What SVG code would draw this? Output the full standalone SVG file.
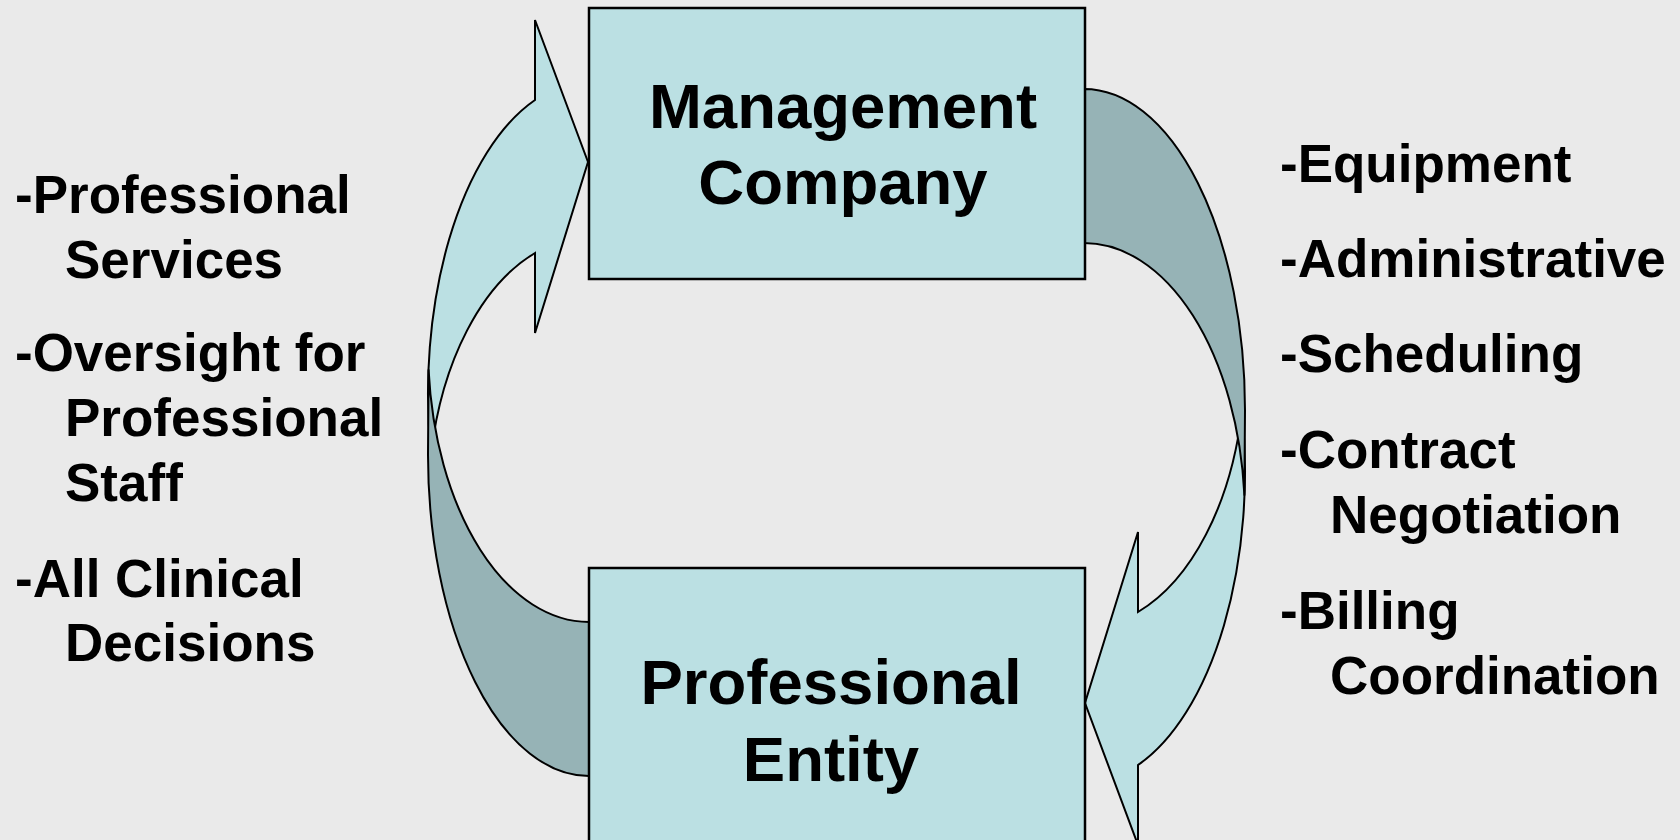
<svg xmlns="http://www.w3.org/2000/svg" width="1680" height="840" viewBox="0 0 1680 840">
<defs>
<style>
.bg{fill:#EAEAEA}
.box{fill:#BBE0E3;stroke:#000;stroke-width:2.5}
.front{fill:#BBE0E3;stroke:#000;stroke-width:2;stroke-linejoin:miter}
.back{fill:#96B3B6;stroke:#000;stroke-width:2;stroke-linejoin:round}
.title{font-family:"Liberation Sans",Arial,sans-serif;font-weight:bold;font-size:63.5px;fill:#000;text-anchor:middle}
.item{font-family:"Liberation Sans",Arial,sans-serif;font-weight:bold;font-size:53px;fill:#000}
</style>
<g id="curved-arrow">
<path class="front" d="M535,20 L588,162 L535,333 L535,253 A161,267.6 0 0 0 431,454 A161,312 0 0 1 535,100 Z"/>
<path class="back" d="M589,622 A161,275.2 0 0 1 428.6,370 L428,455 A161,321 0 0 0 589,776 Z"/>
</g>
</defs>
<rect class="bg" x="0" y="0" width="1680" height="840"/>
<g id="connectors">
<use href="#curved-arrow"/>
<use href="#curved-arrow" transform="rotate(180 836.5 432.5)"/>
</g>
<g id="management-company">
<rect class="box" x="589" y="8" width="496" height="271"/>
<text class="title" x="843" y="128">Management</text>
<text class="title" x="843" y="204">Company</text>
</g>
<g id="professional-entity">
<rect class="box" x="589" y="568" width="496" height="290"/>
<text class="title" x="831" y="704">Professional</text>
<text class="title" x="831" y="781">Entity</text>
</g>
<g id="left-list">
<text class="item" x="15" y="213">-Professional</text>
<text class="item" x="65" y="278">Services</text>
<text class="item" x="15" y="371">-Oversight for</text>
<text class="item" x="65" y="436">Professional</text>
<text class="item" x="65" y="501">Staff</text>
<text class="item" x="15" y="597">-All Clinical</text>
<text class="item" x="65" y="661">Decisions</text>
</g>
<g id="right-list">
<text class="item" x="1280" y="182">-Equipment</text>
<text class="item" x="1280" y="277">-Administrative</text>
<text class="item" x="1280" y="372">-Scheduling</text>
<text class="item" x="1280" y="468">-Contract</text>
<text class="item" x="1330" y="533">Negotiation</text>
<text class="item" x="1280" y="629">-Billing</text>
<text class="item" x="1330" y="694">Coordination</text>
</g>
</svg>
